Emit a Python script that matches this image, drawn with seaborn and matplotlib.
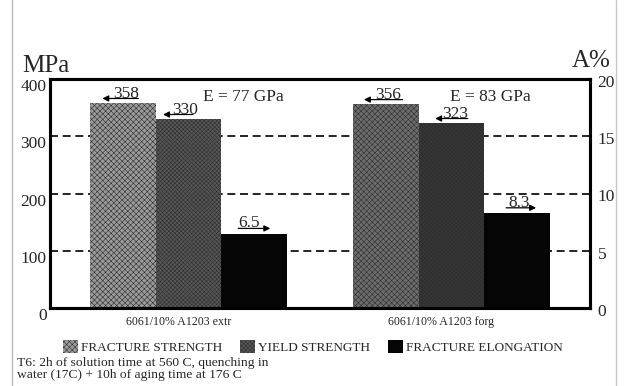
import numpy as np
import pandas as pd
import matplotlib.pyplot as plt
import seaborn as sns
from matplotlib.patches import Patch
from matplotlib.lines import Line2D
from matplotlib.transforms import ScaledTranslation

sns.set_style('white')
plt.rcParams['font.family'] = ['Liberation Serif', 'DejaVu Serif']
plt.rcParams['hatch.linewidth'] = 0.4

alloys = ['6061/10% A1203 extr', '6061/10% A1203 forg']
properties = ['FRACTURE STRENGTH', 'YIELD STRENGTH', 'FRACTURE ELONGATION']
fracture_strength = [358, 356]
yield_strength = [330, 323]
fracture_elongation = [6.5, 8.3]
modulus_labels = ['E = 77 GPa', 'E = 83 GPa']
note = 'T6: 2h of solution time at 560 C, quenching in\nwater (17C) + 10h of aging time at 176 C'

# bar shades per alloy (scan looks darker on the right group)
fs_shades = ['#9a9a9a', '#6c6c6c']
ys_shades = ['#585858', '#363636']
el_color = '#050505'

df_mpa = pd.DataFrame({
    'alloy': alloys * 2,
    'property': [properties[0]] * 2 + [properties[1]] * 2,
    'value': fracture_strength + yield_strength,
})
df_pct = pd.DataFrame({
    'alloy': alloys,
    'property': [properties[2]] * 2,
    'value': fracture_elongation,
})
pal = {properties[0]: fs_shades[0], properties[1]: ys_shades[0], properties[2]: el_color}

fig = plt.figure(figsize=(6.25, 3.86), dpi=100)
ax = fig.add_axes([50/625, 1-308/386, 540/625, 229/386])

sns.barplot(data=df_mpa, x='alloy', y='value', hue='property', order=alloys,
            hue_order=properties, palette=pal, width=0.75, gap=0, dodge=True,
            linewidth=0, legend=False, ax=ax)
ax2 = ax.twinx()
sns.barplot(data=df_pct, x='alloy', y='value', hue='property', order=alloys,
            hue_order=properties, palette=pal, width=0.75, gap=0, dodge=True,
            linewidth=0, legend=False, ax=ax2)

# screen-print like textures
for cont, shades, hatch in zip(ax.containers, [fs_shades, ys_shades], ['xxxxxx', 'xxxxxxxx']):
    for bar, c in zip(cont, shades):
        bar.set_facecolor(c)
        bar.set_edgecolor('#2e2e2e')
        bar.set_hatch(hatch)
        bar.set_linewidth(0)

ax.set_xlim(-0.527, 1.527)
ax.set_ylim(0, 400)
ax2.set_ylim(0, 20)
ax.set_yticks([0, 100, 200, 300, 400])
ax2.set_yticks([0, 5, 10, 15, 20])
ax.set_xlabel('')
ax.set_ylabel('')
ax2.set_ylabel('')

ax.set_axisbelow(True)
ax.yaxis.grid(True, linestyle=(0, (4.8, 2.8)), color='black', lw=1.2)
ax.xaxis.grid(False)

for a in (ax, ax2):
    for s in a.spines.values():
        s.set_visible(True)
        s.set_linewidth(2.2)
        s.set_color('black')
ax.tick_params(axis='y', labelsize=12.5, length=0, pad=2.5)
ax2.tick_params(axis='y', labelsize=12.5, length=0, pad=5.5)
ax.tick_params(axis='x', labelsize=8.6, length=0, pad=5.5)

for lab in ax.get_yticklabels():
    lab.set_transform(lab.get_transform() + ScaledTranslation(0, -6/100, fig.dpi_scale_trans))
for lab in ax2.get_yticklabels():
    lab.set_transform(lab.get_transform() + ScaledTranslation(0, -2/100, fig.dpi_scale_trans))
for lab in ax.get_xticklabels():
    lab.set_transform(lab.get_transform() + ScaledTranslation(-10/100, 0, fig.dpi_scale_trans))

# value labels with arrows: (arrow tip, arrow tail, text centre) offsets from bar centre
strength_offsets = [[(-0.078, 0.059, 0.011), (-0.083, 0.064, 0.011)],
                    [(-0.097, 0.017, -0.013), (-0.062, 0.062, 0.015)]]
for cont, vals, offs in zip(ax.containers, [fracture_strength, yield_strength], strength_offsets):
    for bar, v, (tip, tail, tx) in zip(cont, vals, offs):
        cx = bar.get_x() + bar.get_width() / 2
        h = bar.get_height()
        ax.annotate('', xy=(cx + tip, h + 8), xytext=(cx + tail, h + 8),
                    arrowprops=dict(arrowstyle='-|>', color='black', lw=0.9,
                                    mutation_scale=9, shrinkA=0, shrinkB=0))
        ax.text(cx + tx, h + 9.5, str(v), ha='center', va='baseline', fontsize=12.5)

elong_offsets = [(0.061, -0.061, -0.019), (0.072, -0.042, 0.006)]
for bar, v, (tip, tail, tx) in zip(ax2.containers[-1], fracture_elongation, elong_offsets):
    cx = bar.get_x() + bar.get_width() / 2
    h = bar.get_height()
    ax2.annotate('', xy=(cx + tip, h + 0.45), xytext=(cx + tail, h + 0.45),
                 arrowprops=dict(arrowstyle='-|>', color='black', lw=0.9,
                                 mutation_scale=9, shrinkA=0, shrinkB=0))
    ax2.text(cx + tx, h + 0.55, str(v), ha='center', va='baseline', fontsize=12.5)

for bar, lab, dx in zip(ax.containers[1], modulus_labels, [0.055, -0.005]):
    ax.text(bar.get_x() + bar.get_width() / 2 + dx, 383, lab, ha='left', va='top', fontsize=12.5)

fig.text(22/625, 1-72/386, 'MPa', fontsize=18, va='baseline', ha='left')
fig.text(572/625, 1-67/386, 'A%', fontsize=18, va='baseline', ha='left')

handles = [Patch(facecolor=fs_shades[0], edgecolor='#2e2e2e', hatch='xxxxxx', lw=0),
           Patch(facecolor=ys_shades[0], edgecolor='#2e2e2e', hatch='xxxxxxxx', lw=0),
           Patch(facecolor=el_color, lw=0)]
fig.legend(handles, properties, ncol=3, loc='center left',
           bbox_to_anchor=(63/625, 1-347/386), frameon=False, fontsize=9.5,
           handlelength=1.15, handleheight=1.15, handletextpad=0.25,
           columnspacing=1.3, borderaxespad=0, borderpad=0)

fig.text(17/625, 1-369/386, note, fontsize=9.7, va='center', ha='left', linespacing=0.95)

fig.add_artist(Line2D([12/625, 12/625], [0, 1], color='#b8b8b8', lw=1.0))
fig.add_artist(Line2D([616/625, 616/625], [0, 1], color='#c8c8c8', lw=1.0))

fig.savefig('out.png', dpi=100)
